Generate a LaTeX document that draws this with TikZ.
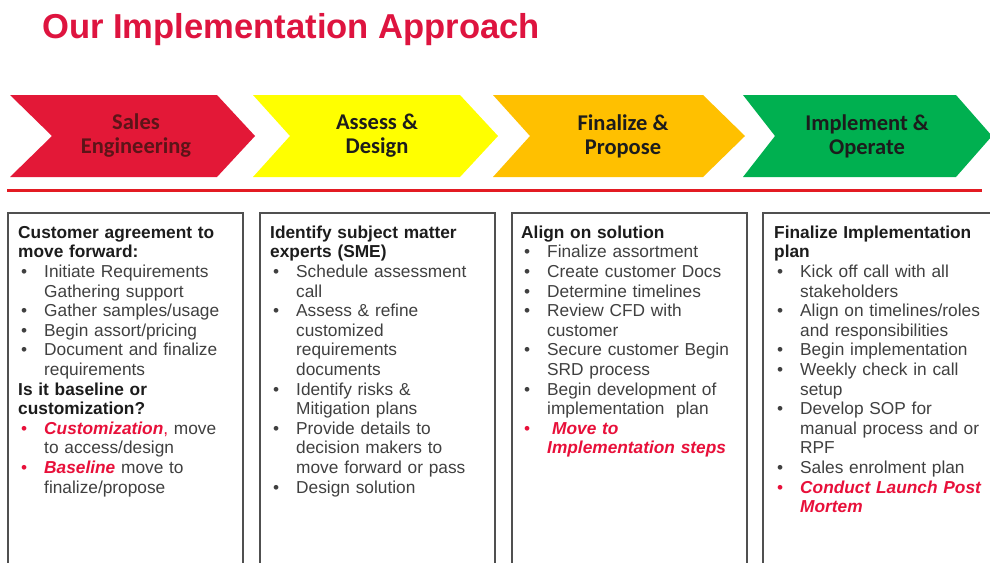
\documentclass[tikz,border=0pt]{standalone}
\usepackage{fontspec}
\setmainfont{Liberation Sans}
\newfontfamily\chevf{Carlito}
\definecolor{cred}{HTML}{E31837}
\definecolor{cyellow}{HTML}{FFFF00}
\definecolor{corange}{HTML}{FFC000}
\definecolor{cgreen}{HTML}{00B050}
\definecolor{linered}{HTML}{E31B23}
\definecolor{titlered}{HTML}{DE143F}
\definecolor{hired}{HTML}{E8103A}
\definecolor{bodytext}{HTML}{404040}
\definecolor{headtext}{HTML}{1C1C1C}
\definecolor{boxgray}{HTML}{505050}
\definecolor{darkredtext}{HTML}{5C1418}
\newcommand{\bl}{\makebox[26pt][l]{\hspace{3pt}\textbullet}}
\newcommand{\rbl}{\makebox[26pt][l]{\hspace{3pt}\textcolor{hired}{\textbullet}}}
\newcommand{\ind}{\hspace*{26pt}}
\newcommand{\hl}[1]{\textcolor{hired}{\textbf{\textit{#1}}}}
\newcommand{\hd}[1]{\textcolor{headtext}{\textbf{#1}}}
\begin{document}
\begin{tikzpicture}[x=1pt,y=-1pt,
  clabel/.style={font=\chevf\bfseries\fontsize{22.5}{24}\selectfont, align=center, inner sep=0, text=headtext},
  boxframe/.style={draw=boxgray, line width=1.2pt},
  body/.style={anchor=north west, inner sep=0, text width=300pt, align=left,
    font=\fontsize{17.3}{19.6}\selectfont, text=bodytext}]
\useasboundingbox (0,0) rectangle (990,562);
\fill[white] (0,0) rectangle (990,562);

% title
\node[anchor=base west, inner sep=0, text=titlered,
  font=\bfseries\fontsize{34.6}{40}\selectfont] (title) at (42,38) {Our Implementation Approach};

% chevrons
\fill[cred] (10,95) -- (217,95) -- (255,136) -- (217,177) -- (10,177) -- (52,136) -- cycle;
\fill[cyellow] (253,95) -- (460,95) -- (498,136) -- (460,177) -- (253,177) -- (290,136) -- cycle;
\fill[corange] (493,95) -- (703,95) -- (745,136) -- (703,177) -- (493,177) -- (530,136) -- cycle;
\fill[cgreen] (743,95) -- (956,95) -- (992,136) -- (956,177) -- (743,177) -- (775,136) -- cycle;

\node[clabel, text=darkredtext] (c1) at (136,136) {Sales\\Engineering};
\node[clabel] (c2) at (377,136) {Assess \&\\Design};
\node[clabel] (c3) at (623,136) {Finalize \&\\Propose};
\node[clabel] (c4) at (867,136) {Implement \&\\Operate};

% red rule
\draw[linered, line width=3pt] (7,190) -- (982,190);

% boxes
\draw[boxframe] (8,213) rectangle (243,575);
\draw[boxframe] (260,213) rectangle (495,575);
\draw[boxframe] (512,213) rectangle (747,575);
\draw[boxframe] (763,213) rectangle (1000,575);

\node[body] (t1) at (18,223) {\rule{0pt}{15pt}\hd{Customer agreement to}\\
\hd{move forward:}\\
\bl Initiate Requirements\\
\ind Gathering support\\
\bl Gather samples/usage\\
\bl Begin assort/pricing\\
\bl Document and finalize\\
\ind requirements\\
\hd{Is it baseline or}\\
\hd{customization?}\\
\rbl\hl{Customization}\textcolor{hired}{,} move\\
\ind to access/design\\
\rbl\hl{Baseline} move to\\
\ind finalize/propose};

\node[body] (t2) at (270,223) {\rule{0pt}{15pt}\hd{Identify subject matter}\\
\hd{experts (SME)}\\
\bl Schedule assessment\\
\ind call\\
\bl Assess \& refine\\
\ind customized\\
\ind requirements\\
\ind documents\\
\bl Identify risks \&\\
\ind Mitigation plans\\
\bl Provide details to\\
\ind decision makers to\\
\ind move forward or pass\\
\bl Design solution};

\node[body] (t3) at (521,223) {\rule{0pt}{15pt}\hd{Align on solution}\\
\bl Finalize assortment\\
\bl Create customer Docs\\
\bl Determine timelines\\
\bl Review CFD with\\
\ind customer\\
\bl Secure customer Begin\\
\ind SRD process\\
\bl Begin development of\\
\ind implementation\ \ plan\\
\rbl\hspace{5pt}\hl{Move to}\\
\ind\hl{Implementation steps}};

\node[body] (t4) at (774,223) {\rule{0pt}{15pt}\hd{Finalize Implementation}\\
\hd{plan}\\
\bl Kick off call with all\\
\ind stakeholders\\
\bl Align on timelines/roles\\
\ind and responsibilities\\
\bl Begin implementation\\
\bl Weekly check in call\\
\ind setup\\
\bl Develop SOP for\\
\ind manual process and or\\
\ind RPF\\
\bl Sales enrolment plan\\
\rbl\hl{Conduct Launch Post}\\
\ind\hl{Mortem}};
\end{tikzpicture}
\end{document}
